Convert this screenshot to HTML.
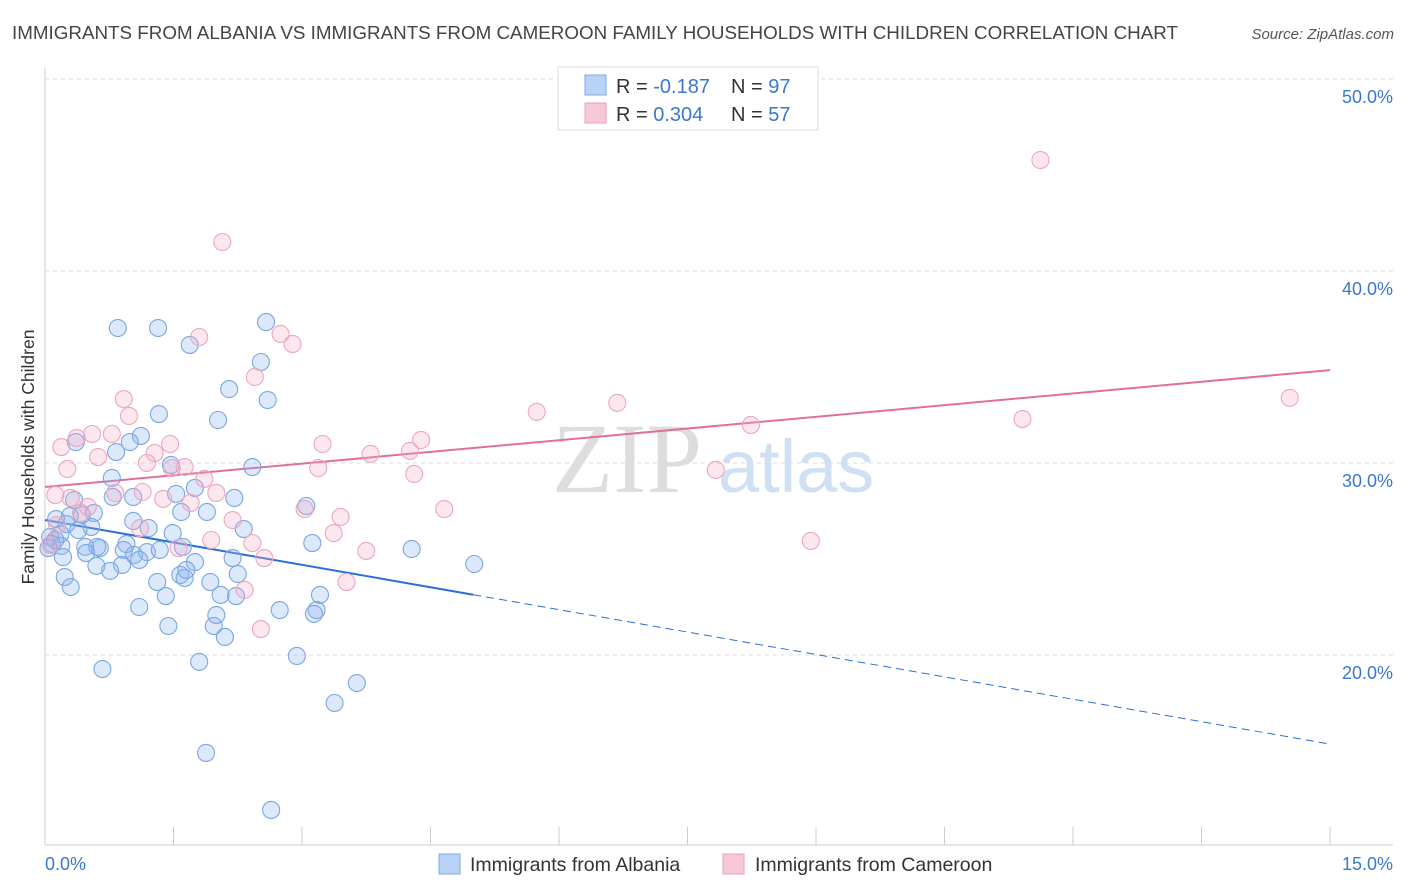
<!DOCTYPE html>
<html><head><meta charset="utf-8"><style>
body{margin:0;background:#fff;font-family:"Liberation Sans",sans-serif;}
svg{display:block}
</style></head><body>
<svg id="chart" width="1406" height="892" xmlns="http://www.w3.org/2000/svg">
<text x="12" y="39" font-size="18" fill="#444" textLength="1166" lengthAdjust="spacingAndGlyphs">IMMIGRANTS FROM ALBANIA VS IMMIGRANTS FROM CAMEROON FAMILY HOUSEHOLDS WITH CHILDREN CORRELATION CHART</text>
<text x="1394" y="39" font-size="15" fill="#555" font-style="italic" text-anchor="end">Source: ZipAtlas.com</text>
<g>
<text x="552" y="492" font-size="100" font-family="Liberation Serif,serif" fill="#ddd">ZIP</text>
<text x="718" y="492" font-size="74" fill="#cfe0f3">atlas</text>
</g>
<g id="grid"></g>
<g id="axes"></g>
<g id="lines"></g>
<g id="pts"></g>
<text transform="translate(34,457) rotate(-90)" font-size="17.5" fill="#333" text-anchor="middle">Family Households with Children</text>
<g>
<rect x="558" y="67" width="260" height="63" fill="#fff" stroke="#ddd"/>
<rect x="585" y="75" width="21" height="20" fill="#b8d3f5" stroke="#7fa8e0"/>
<rect x="585" y="103" width="21" height="20" fill="#f9c8d6" stroke="#eaa0b8"/>
<text x="616" y="93" font-size="20" fill="#333">R = <tspan fill="#3a78d0">-0.187</tspan></text>
<text x="731" y="93" font-size="20" fill="#333">N = <tspan fill="#3a78d0">97</tspan></text>
<text x="616" y="121" font-size="20" fill="#333">R = <tspan fill="#3a78d0"> 0.304</tspan></text>
<text x="731" y="121" font-size="20" fill="#333">N = <tspan fill="#3a78d0">57</tspan></text>
</g>
<g>
<rect x="439" y="854" width="21" height="20" fill="#b8d3f5" stroke="#7fa8e0"/>
<text x="470" y="871" font-size="19.5" fill="#333">Immigrants from Albania</text>
<rect x="723" y="854" width="21" height="20" fill="#f9c8d6" stroke="#eaa0b8"/>
<text x="755" y="871" font-size="19.5" fill="#333">Immigrants from Cameroon</text>
</g>
</svg>
<script>
const yTicks=[20,30,40,50];
const yTickLabels=["20.0%","30.0%","40.0%","50.0%"];
const xTickCount=10;
const xLabels=["0.0%","15.0%"];
const blueX=[0.85,1.32,2.58,1.69,2.52,2.15,2.60,1.33,2.02,0.36,1.12,0.99,0.83,2.42,1.47,0.78,1.75,1.53,2.21,1.03,0.79,0.34,1.89,1.59,0.57,3.05,0.43,0.13,0.25,1.03,1.21,2.32,0.18,0.54,1.49,0.39,0.06,0.08,0.19,3.12,4.28,0.95,0.64,1.19,1.61,0.47,0.92,0.61,1.04,0.48,0.21,1.34,1.75,5.01,0.60,0.90,0.76,2.19,1.10,0.23,0.30,1.58,1.65,1.31,2.25,1.63,1.93,2.05,2.23,3.21,1.41,1.10,2.74,2.00,3.17,3.14,1.44,1.97,2.10,2.94,0.67,1.80,3.64,3.38,1.88,2.64,0.12,0.04,0.29];
const blueY=[37.03,37.03,37.34,36.15,35.26,33.85,33.28,32.55,32.24,31.09,31.41,31.09,30.57,29.79,29.90,29.22,28.70,28.39,28.18,28.23,28.23,28.07,27.45,27.45,27.40,27.76,27.29,27.08,26.82,26.98,26.61,26.56,26.30,26.67,26.35,26.51,26.15,25.78,25.68,25.83,25.52,25.78,25.57,25.36,25.63,25.63,25.47,25.63,25.21,25.31,25.10,25.47,24.84,24.74,24.64,24.69,24.38,25.05,24.95,24.06,23.54,24.17,24.43,23.80,24.22,24.01,23.80,23.13,23.07,23.13,23.07,22.50,22.34,22.08,22.34,22.14,21.51,21.51,20.94,19.95,19.27,19.64,18.54,17.50,14.90,11.93,25.99,25.57,27.24];
const pinkX=[11.62,2.07,1.80,2.75,2.89,2.45,0.92,0.98,5.74,6.68,14.53,11.41,8.24,0.55,0.37,0.78,0.19,1.46,3.24,1.28,4.39,3.80,4.26,0.62,1.19,0.26,1.63,1.48,3.19,1.86,4.31,7.83,0.12,0.30,0.82,1.14,1.38,2.00,1.70,0.50,3.03,0.42,4.66,3.45,2.19,1.11,3.37,1.94,2.42,1.56,3.75,2.56,8.94,3.52,2.33,2.52,0.14,0.06];
const pinkY=[45.78,41.51,36.56,36.72,36.20,34.48,33.33,32.45,32.66,33.13,33.39,32.29,31.98,31.51,31.30,31.51,30.83,30.99,30.99,30.52,31.20,30.47,30.63,30.31,30.00,29.69,29.79,29.74,29.74,29.17,29.43,29.64,28.33,28.18,28.44,28.49,28.13,28.44,27.92,27.71,27.60,27.40,27.60,27.19,27.03,26.61,26.35,25.99,25.83,25.57,25.42,25.05,25.94,23.80,23.39,21.35,26.77,25.73];
const blueTrend=[27.03,15.36];
const pinkTrend=[28.75,34.84];
const blueSolidEnd=5.0;

const NS="http://www.w3.org/2000/svg";
const X=v=>45+v*(1330-45)/15;
const Y=v=>79+(50-v)*19.2;
function mk(tag,attrs,parent){const e=document.createElementNS(NS,tag);for(const k in attrs)e.setAttribute(k,attrs[k]);parent.appendChild(e);return e;}
const grid=document.getElementById('grid'),axes=document.getElementById('axes'),lines=document.getElementById('lines'),pts=document.getElementById('pts');
yTicks.forEach((t,i)=>{
 const l=mk('line',{x1:45,x2:1393,y1:Y(t),y2:Y(t),stroke:'#ddd','stroke-dasharray':'4,4'},grid);
 
 
 const tx=mk('text',{x:1393,y:Y(t)+24,'font-size':18,fill:'#3a78d0','text-anchor':'end'},axes);
 tx.textContent=yTickLabels[i];
 
 
});
mk('line',{x1:45,x2:45,y1:68,y2:845,stroke:'#ccc'},axes);
mk('line',{x1:45,x2:1393,y1:845,y2:845,stroke:'#ccc'},axes);
for(let i=1;i<=xTickCount;i++){const v=15*i/xTickCount;const t=mk('line',{x1:X(v),x2:X(v),y1:827,y2:845,stroke:'#ccc'},axes);
 
 }
let xl=mk('text',{x:45,y:870,'font-size':18,fill:'#3a78d0'},axes);xl.textContent=xLabels[0];


xl=mk('text',{x:1393,y:870,'font-size':18,fill:'#3a78d0','text-anchor':'end'},axes);xl.textContent=xLabels[1];


function draw(xs,ys,fill,stroke,name){xs.forEach((x,i)=>{const c=mk('circle',{cx:X(x),cy:Y(ys[i]),r:8.5,fill:fill,stroke:stroke,'stroke-width':1.1},pts);
 
 });}
draw(blueX,blueY,'rgba(140,182,238,0.3)','#7aa6e2','albania-point');
draw(pinkX,pinkY,'rgba(245,170,198,0.28)','#eca6bf','cameroon-point');
const by=x=>blueTrend[0]+(blueTrend[1]-blueTrend[0])*x/15;
let l1=mk('line',{x1:X(0),y1:Y(by(0)),x2:X(blueSolidEnd),y2:Y(by(blueSolidEnd)),stroke:'#2a6fd6','stroke-width':2},lines);


let l2=mk('line',{x1:X(blueSolidEnd),y1:Y(by(blueSolidEnd)),x2:X(15),y2:Y(by(15)),stroke:'#2a6fd6','stroke-width':1,'stroke-dasharray':'8,5'},lines);


let l3=mk('line',{x1:X(0),y1:Y(pinkTrend[0]),x2:X(15),y2:Y(pinkTrend[1]),stroke:'#e0709a','stroke-width':2},lines);


</script>
</body></html>
